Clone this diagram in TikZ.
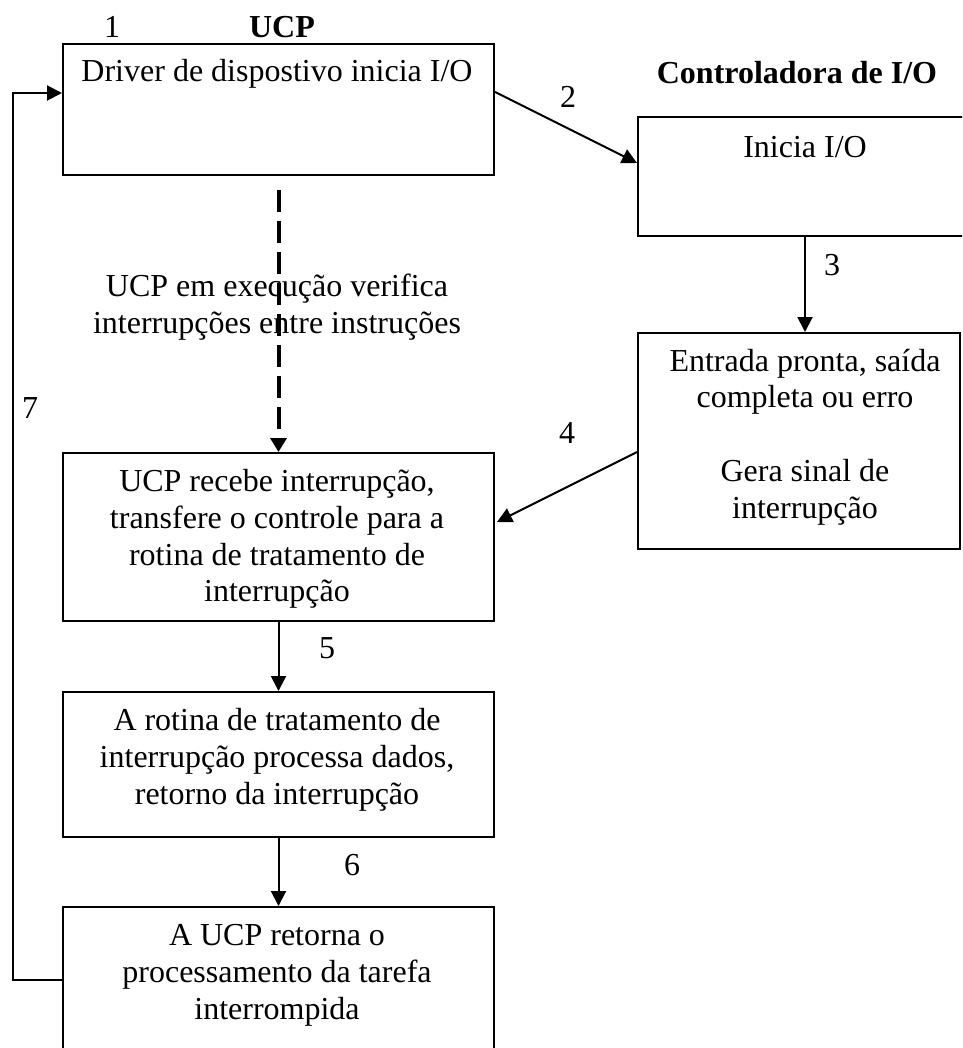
\documentclass[tikz,border=0pt]{standalone}
\usepackage{fontspec}
\setmainfont{Liberation Serif}
\usetikzlibrary{arrows.meta,calc}
\begin{document}
\begin{tikzpicture}[x=1pt,y=-1pt,
  box/.style={draw,line width=2pt,rectangle,inner sep=0pt,anchor=north west},
  txt/.style={inner sep=0pt,align=center,font=\fontsize{32}{36.8}\selectfont},
  head/.style={inner sep=0pt,align=center,font=\fontsize{32}{36.8}\selectfont\bfseries},
  arr/.style={line width=2pt,-{Triangle[length=15pt,width=15pt]}},
  dasharr/.style={line width=4pt,dash pattern=on 22pt off 9pt,-{Triangle[length=14pt,width=16pt]}}]
\useasboundingbox (0,0) rectangle (962,1048);
\clip (0,0) rectangle (962,1048);

% boxes
\node[box,minimum width=431pt,minimum height=131pt] (b1) at (62,43) {};
\node[box,minimum width=326pt,minimum height=119pt] (b2) at (637,116) {};
\node[box,minimum width=322pt,minimum height=216pt] (b3) at (637,332) {};
\node[box,minimum width=431pt,minimum height=168pt] (b4) at (62,452) {};
\node[box,minimum width=431pt,minimum height=145pt] (b5) at (62,691) {};
\node[box,minimum width=431pt,minimum height=170pt] (b6) at (62,906) {};

% box texts
\node[txt] (t1) at (277,74) {Driver de dispostivo inicia I/O};
\node[txt] (t2) at (805,147) {Inicia I/O};
\node[txt] (t3) at (805,437) {Entrada pronta, saída\\completa ou erro\\[36.8pt]Gera sinal de\\interrupção};
\node[txt] (t4) at (277,539) {UCP recebe interrupção,\\transfere o controle para a\\rotina de tratamento de\\interrupção};
\node[txt] (t5) at (277,759.5) {A rotina de tratamento de\\interrupção processa dados,\\retorno da interrupção};
\node[txt] (t6) at (277,975) {A UCP retorna o\\processamento da tarefa\\interrompida};

% headings and step numbers
\node[head] (hucp) at (282,27) {UCP};
\node[head] (hctl) at (797,73) {Controladora de I/O};
\node[txt] (n1) at (112,27) {1};
\node[txt] (n2) at (568,97) {2};
\node[txt] (n3) at (832,265) {3};
\node[txt] (n4) at (567,433) {4};
\node[txt] (n5) at (327,648) {5};
\node[txt] (n6) at (352,865) {6};
\node[txt] (n7) at (30,408) {7};

% CPU polling (dashed)
\draw[dasharr] ($(b1.south)+(0,14)$) -- (b4.north);
\node[txt] (tpoll) at (277,307.5) {UCP em execução verifica\\interrupções entre instruções};

% connectors
\draw[arr] ($(b1.north east)+(0,49)$) -- ($(b2.north west)+(0,47)$);
\draw[arr] ($(b2.south west)+(168,0)$) -- ($(b3.north west)+(168,0)$);
\draw[arr] ($(b3.north west)+(0,120)$) -- ($(b4.north east)+(2,70)$);
\draw[arr] (b4.south) -- (b5.north);
\draw[arr] (b5.south) -- (b6.north);
\draw[arr] ($(b6.north west)+(0,74)$) -- ++(-49,0) |- ($(b1.north west)+(0,50)$);
\end{tikzpicture}
\end{document}
